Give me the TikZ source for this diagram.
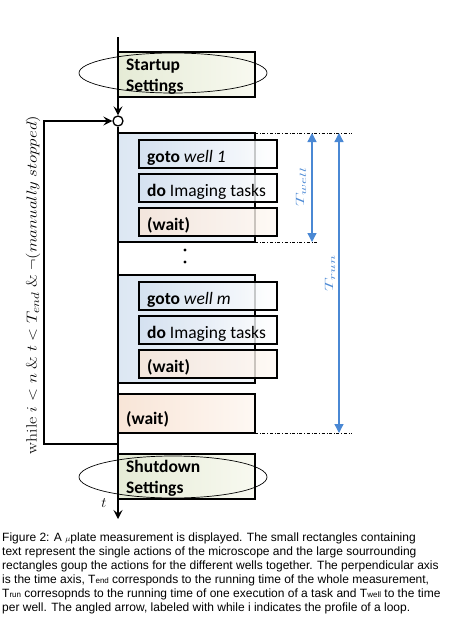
\documentclass[tikz,border=0pt]{standalone}
\usepackage{amsmath}
\usepackage{fontspec}
\usetikzlibrary{arrows.meta}
\newfontfamily\boxfont{Carlito}
\newfontfamily\capfont{Liberation Sans}
\definecolor{timeblue}{RGB}{74,136,212}
\definecolor{wellfill}{RGB}{220,231,243}
\definecolor{wellfillr}{RGB}{244,247,251}
\definecolor{actfill}{RGB}{210,223,239}
\definecolor{waitfill}{RGB}{248,229,215}
\definecolor{waitfillr}{RGB}{254,248,243}
\definecolor{setfill}{RGB}{229,235,214}
\definecolor{setfillr}{RGB}{248,249,240}

\begin{document}
\begin{tikzpicture}[x=1pt,y=-1pt,
    flow/.style={line width=1.6pt,-{Stealth[length=9pt,width=9pt,inset=3.5pt]}},
    frame/.style={draw,line width=1.5pt,outer sep=0pt,inner sep=0pt,anchor=north west},
    wellbox/.style={frame,minimum width=137pt,left color=wellfill,right color=wellfillr},
    setbox/.style={frame,minimum width=137pt,minimum height=45pt,left color=setfill,right color=setfillr},
    actbox/.style={frame,minimum width=138pt,minimum height=28pt,fill opacity=.8,left color=actfill,right color=white},
    waitbox/.style={frame,minimum width=138pt,minimum height=28pt,fill opacity=.8,left color=waitfill,right color=waitfillr},
    boxtext/.style={anchor=base west,inner sep=0pt,font=\boxfont\fontsize{17.5}{21}\selectfont,align=left},
    guide/.style={dash dot,line width=.6pt},
    timespan/.style={timeblue,line width=1.3pt,{Triangle[length=9pt,width=9pt]}-{Triangle[length=9pt,width=9pt]}},
    ring/.style={circle,draw,line width=1.3pt,fill=white,minimum size=10pt,inner sep=0pt}]
  \useasboundingbox (0,0) rectangle (454,624);

  % startup
  \node[setbox] (startup) at (118,52) {};
  \node[boxtext] (startuptxt) at (126,91.7) {\textbf{Startup}\\\textbf{Settings}};
  \draw[line width=.7pt] (173,73) ellipse [x radius=94, y radius=20];

  % well 1
  \node[wellbox,minimum height=109pt] (well1) at (118,133) {};
  \node[actbox] (goto1) at (139,140) {};
  \node[boxtext] at (147,162.5) {\textbf{goto} \textit{well 1}};
  \node[actbox] (do1) at (139,174) {};
  \node[boxtext] at (147,196.5) {\textbf{do} Imaging tasks};
  \node[waitbox] (wait1) at (139,208) {};
  \node[boxtext] at (147,230.5) {\textbf{(wait)}};

  \fill (185,250) circle (1.6pt) (185,262) circle (1.6pt);

  % well m
  \node[wellbox,minimum height=108pt] (wellm) at (118,275) {};
  \node[actbox] (gotom) at (139,282) {};
  \node[boxtext] at (147,304.5) {\textbf{goto} \textit{well m}};
  \node[actbox] (dom) at (139,316) {};
  \node[boxtext] at (147,338.5) {\textbf{do} Imaging tasks};
  \node[waitbox] (waitm) at (139,350) {};
  \node[boxtext] at (147,372.5) {\textbf{(wait)}};

  % final wait + shutdown
  \node[frame,minimum width=137pt,minimum height=39pt,left color=waitfill,right color=waitfillr] (waitend) at (118,394) {};
  \node[boxtext] at (126,424) {\textbf{(wait)}};
  \node[setbox] (shutdown) at (118,454) {};
  \node[boxtext] (shutdowntxt) at (126,493.5) {\textbf{Shutdown}\\\textbf{Settings}};
  \draw[line width=.7pt] (173,477) ellipse [x radius=94, y radius=21];

  % time axis and loop
  \coordinate (axtop) at (118,37);
  \node[ring] (ring) at (118,121) {};
  \coordinate (axend) at (118,519);
  \draw[flow] (axtop) -- (ring);
  \draw[flow] (ring) -- (axend);
  \node[font=\fontsize{15}{15}\selectfont] (tlabel) at (104,503) {$t$};
  \coordinate (loopfoot) at (118,444);
  \coordinate (loopturn) at (44,121);
  \draw[flow] (loopfoot) -| (loopturn) -- (ring);
  \node[rotate=90,font=\fontsize{15}{15}\selectfont] (loopcond) at (33,285)
    {\scalebox{1.18}[1]{while $i<n\;\&\;t<T_{end}\;\&\;\neg(manually\;stopped)$}};

  % durations
  \coordinate (runtop) at (339,133);
  \coordinate (runbot) at (339,433);
  \coordinate (welltop) at (312,133);
  \coordinate (wellbot) at (312,242);
  \draw[guide] (well1.north east) -- (352,133);
  \draw[guide] (well1.south east) -- (317,242);
  \draw[guide] (waitend.south east) -- (352,433);
  \draw[timespan] (welltop) -- (wellbot);
  \draw[timespan] (runtop) -- (runbot);
  \node[timeblue,rotate=90,font=\fontsize{13}{13}\selectfont] (twell) at (301,187) {\scalebox{1.6}[1]{$T_{well}$}};
  \node[timeblue,rotate=90,font=\fontsize{13}{13}\selectfont] (trun) at (330,273) {\scalebox{1.6}[1]{$T_{run}$}};

  % caption
  \node[anchor=base west,inner sep=0pt,align=left,font=\capfont\fontsize{12}{14}\selectfont] (caption) at (2,611)
    {Figure 2: A {\fontsize{8}{8}\selectfont$\mu$}plate measurement is displayed. The small rectangles containing\\
     text represent the single actions of the microscope and the large sourrounding\\
     rectangles goup the actions for the different wells together. The perpendicular axis\\
     is the time axis, T{\fontsize{8}{8}\selectfont end} corresponds to the running time of the whole measurement,\\
     T{\fontsize{8}{8}\selectfont run} corresopnds to the running time of one execution of a task and T{\fontsize{8}{8}\selectfont well} to the time\\
     per well. The angled arrow, labeled with while i indicates the profile of a loop.};
\end{tikzpicture}
\end{document}
